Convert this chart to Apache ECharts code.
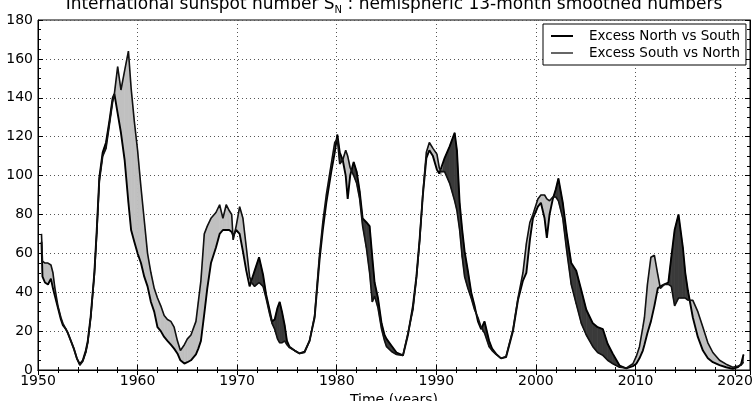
<!DOCTYPE html>
<html>
<head>
<meta charset="utf-8">
<script src="https://cdn.jsdelivr.net/npm/echarts@6/dist/echarts.min.js"></script>
<style>html,body{margin:0;padding:0;background:#fff;}#c{width:755px;height:401px;}</style>
</head>
<body>
<div id="c"></div>
<script>
const years = [1950.35,1950.45,1950.7,1951.0,1951.3,1951.5,1951.7,1952.0,1952.3,1952.5,1952.8,1953.0,1953.3,1953.6,1953.9,1954.2,1954.5,1954.8,1955.0,1955.3,1955.66,1955.9,1956.16,1956.5,1956.83,1957.17,1957.5,1957.67,1958.0,1958.33,1958.7,1959.08,1959.35,1959.67,1960.0,1960.34,1960.67,1961.0,1961.34,1961.67,1962.0,1962.33,1962.67,1963.0,1963.34,1963.67,1964.0,1964.3,1964.7,1965.0,1965.36,1965.86,1966.1,1966.36,1966.7,1967.0,1967.37,1967.87,1968.24,1968.57,1968.9,1969.2,1969.45,1969.6,1969.9,1970.25,1970.58,1970.92,1971.25,1971.45,1971.75,1972.2,1972.6,1972.9,1973.25,1973.5,1973.77,1974.05,1974.27,1974.5,1974.77,1975.0,1975.25,1975.77,1976.27,1976.77,1977.27,1977.78,1978.28,1978.6,1978.95,1979.45,1979.8,1980.06,1980.3,1980.6,1980.9,1981.1,1981.35,1981.7,1982.0,1982.3,1982.6,1982.97,1983.3,1983.57,1983.8,1984.14,1984.5,1984.8,1985.0,1985.5,1986.0,1986.65,1987.15,1987.65,1988.0,1988.32,1988.65,1989.0,1989.3,1989.66,1990.06,1990.3,1990.5,1990.83,1991.34,1991.84,1992.07,1992.34,1992.6,1992.84,1993.17,1993.5,1993.84,1994.18,1994.5,1994.84,1995.3,1995.6,1996.0,1996.5,1997.0,1997.7,1998.2,1998.7,1999.04,1999.4,1999.7,2000.2,2000.5,2000.87,2001.1,2001.37,2001.7,2002.0,2002.26,2002.7,2003.1,2003.55,2004.05,2004.56,2005.06,2005.72,2006.2,2006.73,2007.2,2007.73,2008.4,2009.07,2009.74,2010.08,2010.4,2010.74,2010.9,2011.2,2011.55,2011.9,2012.24,2012.5,2012.9,2013.3,2013.6,2013.93,2014.32,2014.76,2015.0,2015.26,2015.76,2016.26,2016.77,2017.27,2017.77,2018.44,2019.1,2019.77,2020.3,2020.6,2020.85];
const north = [66,48,45,44,47,42,38,32,26,23,21,19,15,11,6,3,5,10,15,28,50,72,99,112,117,128,140,142,132,122,108,86,72,66,60,55,48,43,35,30,22,20,17,15,13,11,8.5,5,3.3,4,5,8,11,15,29,42,55,63,70,72,72,72,71,69,72,70,61,51,43,44,51,58,49,39,31,25,26,32,35,30,23,15,12,10,8.5,9.5,15,27,57,72,86,102,112,121,112,108,100,88,100,107,102,92,78,76,74,58,45,37,24,18,16,12.5,9,7.5,18,33,48,67,90,109,113,110,103,101,100,109,115,122,113,86,72,61,51,40,33,25,21,25,15,11,8.3,6,6.6,20,36,46,50,67,78,84,86,78,68,80,88,93,98.5,86,70,55,51,41,31,24,22,21,13.5,8.3,2.3,0.8,2,3.2,6,10,13,19,25,33,42,43,44,45,58,72,80,63,50,41,27,17,10,6,4,2.5,1.4,0.6,1.5,3,8];
const south = [70,56,55,55,54,50,42,33,27,24,21,19,15,11,6,2.5,4.5,9,14,27,49,70,97,110,114,126,138,142,156,144,154,164,145,128,113,94,77,60,50,42,37,33,28,26,25,22,15,10,13,16,18,25,35,46,70,74,78,81,85,78,85,82,80,67,74,84,78,63,48,45,43,45,43,37,29,24,21,16,14,14,15,13,11.5,10,8.5,9,15,28,60,76,90,106,117,119,106,108,113,110,104,100,96,88,74,63,50,35,38,32,21,15,12,9.5,8,7.5,19,31,47,66,91,112,117,114,111,104,102,102,96,87,82,72,58,48,42,37,31,27,22,19,12,10,8,6,7,21,37,50,65,76,80,88,90,90,88,87,89,89,87,78,61,44,34,24,18,12,9,7.5,5,3.2,1.4,1.0,3.2,7,12,22,27,44,58,59,49,42,44,44,43,33,37,37,37,36,35.8,30,22,14,9,5,3,1.4,2,2.5,4];
const xTicks = [1950,1960,1970,1980,1990,2000,2010,2020];
const yTicks = [0,20,40,60,80,100,120,140,160,180];

const FONT = 'DejaVu Sans';
const nLine = years.map((y,i)=>[y, north[i]]);
const sLine = years.map((y,i)=>[y, south[i]]);
const bandData = years.map((y,i)=>[y, north[i], south[i]]);

// Fill between the two curves, split at crossings; sign>0 = north excess
function fillSeries(name, sign, color){
  return {
    type:'custom', name:name, coordinateSystem:'cartesian2d', data:bandData,
    encode:{x:0, y:[1,2]}, clip:true, silent:true, z:1,
    renderItem:(params, api)=>{
      const i = params.dataIndex;
      if (i >= years.length-1) return null;
      const x0=api.value(0), n0=api.value(1), s0=api.value(2);
      const x1=years[i+1], n1=north[i+1], s1=south[i+1];
      const d0=n0-s0, d1=n1-s1;
      const polys=[];
      if ((d0>=0 && d1>=0) || (d0<=0 && d1<=0)) {
        if (d0===0 && d1===0) return null;
        const isN = (d0+d1)>0 ? 1 : -1;
        if (isN===sign) polys.push([[x0,n0],[x1,n1],[x1,s1],[x0,s0]]);
      } else {
        const t=d0/(d0-d1), xm=x0+t*(x1-x0), ym=n0+t*(n1-n0);
        const first = d0>0 ? 1 : -1;
        if (first===sign) polys.push([[x0,n0],[xm,ym],[x0,s0]]);
        else polys.push([[xm,ym],[x1,n1],[x1,s1]]);
      }
      if (!polys.length) return null;
      return {type:'group', children: polys.map(p=>({
        type:'polygon', shape:{points:p.map(q=>api.coord(q))},
        style:{fill:color, stroke:color, lineWidth:0.7}
      }))};
    }
  };
}

const chart = echarts.init(document.getElementById('c'), null, {renderer:'canvas'});
const tickStyle = {show:true, inside:true, length:5, lineStyle:{color:'#000', width:1}};
const minorStyle = {show:true, length:3, lineStyle:{color:'#000', width:1}};
const gridLine = {show:true, lineStyle:{color:'#555', type:[1,3], width:1}};
chart.setOption({
  animation:false,
  backgroundColor:'#fff',
  graphic:[{
    type:'text', x:394, y:15, z:100,
    style:{
      text:'{a|International sunspot number S}{s|N}{a| : hemispheric 13-month smoothed numbers}',
      align:'center', verticalAlign:'bottom',
      rich:{a:{fontSize:17, fontFamily:FONT, fill:'#000'}, s:{fontSize:10, fontFamily:FONT, fill:'#000', padding:[10,0,0,0]}}
    }
  }],
  grid:{left:38, right:5, top:20, bottom:31, show:true, borderColor:'#000', borderWidth:1, containLabel:false, outerBoundsMode:'none'},
  legend:{
    orient:'vertical', left:543, top:24,
    itemWidth:22, itemHeight:2, itemGap:3, icon:'rect',
    padding:[5,6,5,8],
    borderColor:'#000', borderWidth:1, backgroundColor:'#fff',
    textStyle:{fontFamily:FONT, fontSize:13.5, color:'#000', padding:[0,0,0,11]},
    data:[
      {name:'Excess North vs South', itemStyle:{color:'#000'}},
      {name:'Excess South vs North', itemStyle:{color:'#666'}}
    ]
  },
  xAxis:[{
    type:'value', min:1950, max:2021.5, interval:10, position:'bottom',
    name:'Time (years)', nameLocation:'middle', nameGap:19,
    nameTextStyle:{fontFamily:FONT, fontSize:14, color:'#000'},
    axisLine:{show:true, lineStyle:{color:'#000'}},
    axisTick:tickStyle, minorTick:Object.assign({splitNumber:5}, minorStyle),
    axisLabel:{fontFamily:FONT, fontSize:14, color:'#000', margin:4, showMaxLabel:false,
      formatter:v=> xTicks.includes(v) ? String(v) : ''},
    splitLine:gridLine
  },{
    type:'value', min:1950, max:2021.5, interval:10, position:'top',
    axisLine:{show:true, lineStyle:{color:'#000'}},
    axisTick:tickStyle, minorTick:Object.assign({splitNumber:5}, minorStyle),
    axisLabel:{show:false}, splitLine:{show:false}
  }],
  yAxis:[{
    type:'value', min:0, max:180, interval:20, position:'left',
    axisLine:{show:true, lineStyle:{color:'#000'}},
    axisTick:tickStyle, minorTick:Object.assign({splitNumber:4}, minorStyle),
    axisLabel:{fontFamily:FONT, fontSize:14, color:'#000', margin:5,
      formatter:v=> yTicks.includes(v) ? String(v) : ''},
    splitLine:gridLine
  },{
    type:'value', min:0, max:180, interval:20, position:'right',
    axisLine:{show:true, lineStyle:{color:'#000'}},
    axisTick:tickStyle, minorTick:Object.assign({splitNumber:4}, minorStyle),
    axisLabel:{show:false}, splitLine:{show:false}
  }],
  series:[
    fillSeries('nfill', 1, '#3a3a3a'),
    fillSeries('sfill', -1, '#c0c0c0'),
    {type:'line', name:'Excess North vs South', data:nLine, showSymbol:false, z:3, lineStyle:{color:'#000', width:1.9}, itemStyle:{color:'#000'}},
    {type:'line', name:'Excess South vs North', data:sLine, showSymbol:false, z:3, lineStyle:{color:'#111', width:1.6}, itemStyle:{color:'#666'}}
  ]
});
</script>
</body>
</html>
